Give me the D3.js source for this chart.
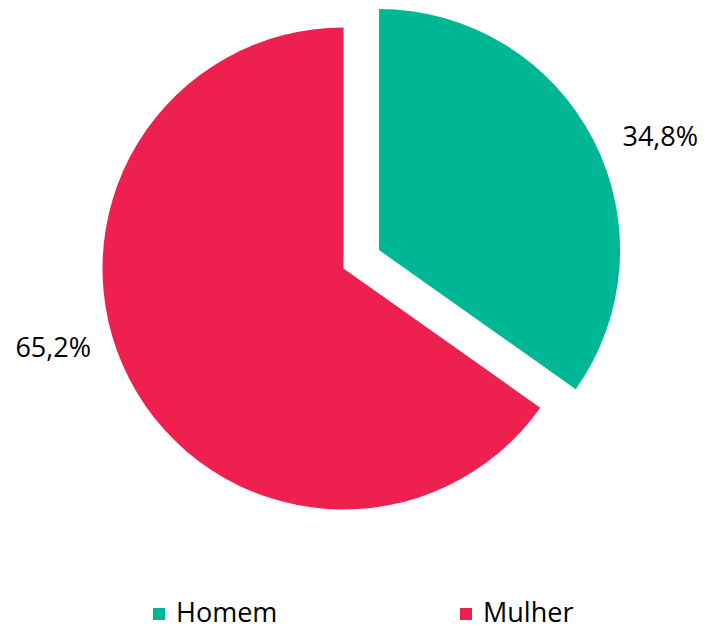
<!DOCTYPE html>
<html>
<head>
<meta charset="utf-8">
<script src="https://cdn.jsdelivr.net/npm/d3@7"></script>
<style>
  body { margin: 0; background: #fff; }
  text { font-family: "Open Sans", sans-serif; fill: #000; }
</style>
</head>
<body>
<div id="chart"></div>
<script>
// data
const categories = ['Homem', 'Mulher']
const values = [34.8, 65.2]
const labels = ['34,8%', '65,2%']
const colors = ['#00b795', '#ee2050']

var width = 705,
    height = 630,
    cx = 343.5,
    cy = 268.5,
    radius = 241,
    explode = [40, 0];

var svg = d3.select('#chart')
  .append('svg')
  .attr('width', width)
  .attr('height', height)

const pie = d3.pie().sort(null).value(d => d)
const arcs = pie(values)
const arc = d3.arc().innerRadius(0).outerRadius(radius)

const shift = (d, i) => {
  let a = (d.startAngle + d.endAngle) / 2
  return [Math.sin(a) * explode[i], -Math.cos(a) * explode[i]]
}

const g = svg.append('g').attr('transform', `translate(${cx},${cy})`)

g.selectAll('path')
  .data(arcs)
  .enter()
  .append('path')
  .attr('d', arc)
  .attr('fill', (d, i) => colors[i])
  .attr('transform', (d, i) => `translate(${shift(d, i)})`)

// labels sit just outside the rim, nudged like Excel does
const labelR = radius + 32
const nudge = [[1, 11], [-10, -47]]
g.selectAll('.lbl')
  .data(arcs)
  .enter()
  .append('text')
  .attr('class', 'lbl')
  .attr('font-size', 27)
  .attr('text-anchor', (d, i) => i == 0 ? 'start' : 'end')
  .attr('dominant-baseline', 'central')
  .attr('x', (d, i) => {
    let a = (d.startAngle + d.endAngle) / 2
    return shift(d, i)[0] + Math.sin(a) * labelR + nudge[i][0]
  })
  .attr('y', (d, i) => {
    let a = (d.startAngle + d.endAngle) / 2
    return shift(d, i)[1] - Math.cos(a) * labelR + nudge[i][1]
  })
  .text((d, i) => labels[i])

// legend
const legendX = d3.scalePoint().domain(categories).range([153, 460])
const legend = svg.selectAll('.leg')
  .data(categories)
  .enter()
  .append('g')
  .attr('class', 'leg')
  .attr('transform', d => `translate(${legendX(d)},608)`)

legend.append('rect')
  .attr('width', 12)
  .attr('height', 12)
  .attr('fill', (d, i) => colors[i])

legend.append('text')
  .attr('x', 23)
  .attr('y', 14)
  .attr('font-size', 27)
  .text(d => d)
</script>
</body>
</html>
